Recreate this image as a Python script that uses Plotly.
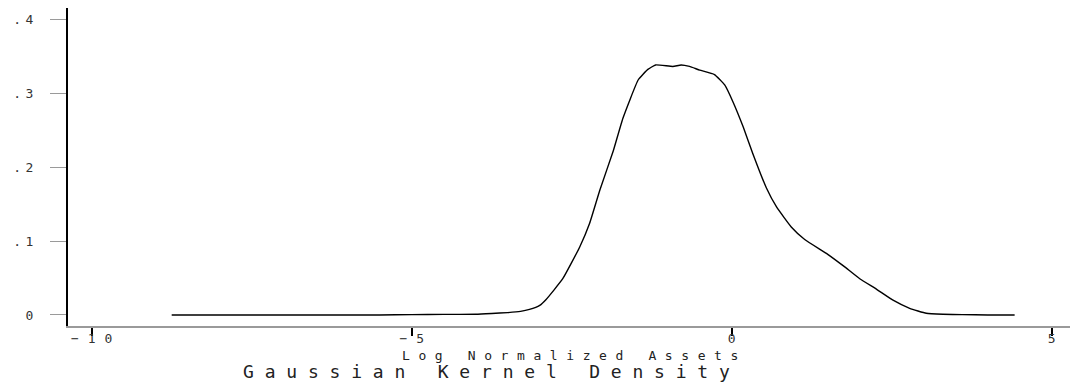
import plotly.graph_objects as go

# Kernel density estimate
log_assets = [-8.75, -8.5, -8.0, -7.5, -7.0, -6.5, -6.0, -5.5, -5.0, -4.5, -4.0,
              -3.75, -3.5, -3.3, -3.16, -3.0, -2.9, -2.64, -2.375, -2.22, -2.06,
              -1.85, -1.70, -1.46, -1.31, -1.19, -0.92, -0.79, -0.66, -0.5, -0.27,
              -0.11, 0.02, 0.18, 0.33, 0.54, 0.70, 0.93, 1.14, 1.5, 1.75, 2.0,
              2.26, 2.52, 2.78, 3.04, 3.30, 3.6, 4.0, 4.42]
density = [0.0, 0.0, 0.0, 0.0, 0.0, 0.0, 0.0, 0.0, 0.0005, 0.0008, 0.001,
           0.002, 0.0032, 0.0048, 0.0075, 0.013, 0.021, 0.049, 0.092, 0.124, 0.169,
           0.222, 0.266, 0.318, 0.332, 0.338, 0.336, 0.338, 0.336, 0.331, 0.325,
           0.311, 0.288, 0.254, 0.218, 0.172, 0.146, 0.119, 0.102, 0.082, 0.066, 0.049,
           0.035, 0.020, 0.009, 0.0023, 0.001, 0.0005, 0.0, 0.0]

x_ticks = [-10, -5, 0, 5]
x_tick_text = ["\u221210", "\u22125", "0", "5"]
y_ticks = [0, 0.1, 0.2, 0.3, 0.4]
y_tick_text = ["0", ".1", ".2", ".3", ".4"]

x_title = "Log Normalized Assets"
chart_title = "Gaussian Kernel Density"

FONT = "DejaVu Sans Mono"


def spaced(s, px):
    # letter spacing between glyphs, none after the last one
    if len(s) < 2:
        return s
    return '<span style="letter-spacing:%spx">%s</span>%s' % (px, s[:-1], s[-1])


fig = go.Figure()
fig.add_trace(go.Scatter(
    x=log_assets, y=density, mode="lines",
    line=dict(color="black", width=1.4, shape="spline", smoothing=0.4),
    hoverinfo="skip", showlegend=False,
))

fig.update_layout(
    width=1073, height=385,
    margin=dict(l=68, r=3, t=8, b=59),
    paper_bgcolor="white", plot_bgcolor="white",
    font=dict(family=FONT, color="#222"),
    showlegend=False,
)

fig.update_xaxes(
    range=[-10.37, 5.285], showgrid=False, zeroline=False,
    showline=True, linecolor="#9a9a9a", linewidth=1.5,
    ticks="outside", ticklen=8, tickwidth=1.5, tickcolor="black",
    tickvals=x_ticks, ticktext=[spaced(t, 9) for t in x_tick_text],
    tickfont=dict(family=FONT, size=13, color="#333"),
    ticklabelstandoff=-8,
)
fig.update_yaxes(
    range=[-0.0149, 0.415], showgrid=False, zeroline=False,
    showline=True, linecolor="black", linewidth=2,
    ticks="outside", ticklen=16, tickwidth=1.3, tickcolor="#9a9a9a",
    tickvals=y_ticks, ticktext=[spaced(t, 4.5) for t in y_tick_text],
    tickfont=dict(family=FONT, size=13, color="#333"),
    ticklabelstandoff=14,
)

fig.add_annotation(
    x=-2.53, xref="x", y=0, yref="paper", yanchor="middle", xanchor="center",
    yshift=-29, showarrow=False,
    text=spaced(x_title, 8.6), font=dict(family=FONT, size=13, color="#222"),
)
fig.add_annotation(
    x=-3.83, xref="x", y=0, yref="paper", yanchor="middle", xanchor="center",
    yshift=-45, showarrow=False,
    text=spaced(chart_title, 10.8), font=dict(family=FONT, size=18, color="#222"),
)

fig.write_html("out.html")
